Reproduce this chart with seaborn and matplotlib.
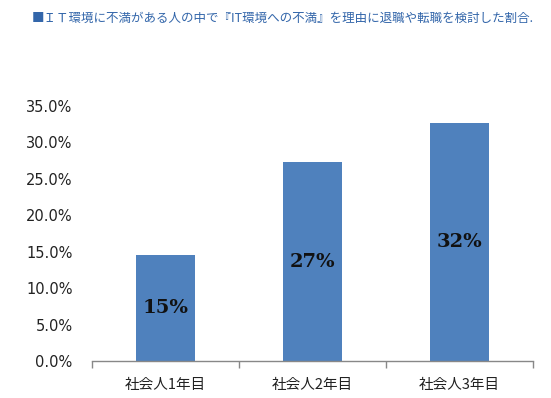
import numpy as np
import pandas as pd
import matplotlib
matplotlib.use("Agg")
import matplotlib.pyplot as plt
import seaborn as sns
from matplotlib.ticker import PercentFormatter

# data
categories = ["社会人1年目", "社会人2年目", "社会人3年目"]
rates = [0.145, 0.273, 0.326]
bar_labels = ["15%", "27%", "32%"]
title = "■ＩＴ環境に不満がある人の中で『IT環境への不満』を理由に退職や転職を検討した割合."

sns.set_style("white")
plt.rcParams['font.family'] = ['DejaVu Sans', 'Noto Sans CJK JP']

df = pd.DataFrame({"category": categories, "rate": rates})

fig = plt.figure(figsize=(5.51, 3.98), dpi=100)
ax = fig.add_axes([92 / 551, 37 / 398, 441 / 551, 255 / 398])

sns.barplot(data=df, x="category", y="rate", color="#4F81BD", width=0.4,
            saturation=1, linewidth=0, ax=ax)

ax.set_ylim(0, 0.35)
ax.set_xlim(-0.5, 2.5)
ax.set_yticks(np.arange(0, 0.351, 0.05))
ax.yaxis.set_major_formatter(PercentFormatter(1.0, decimals=1))
ax.tick_params(axis="y", length=0, pad=14, labelsize=10.5, labelcolor="#222222")
ax.tick_params(axis="x", which="major", length=0, pad=12)
ax.set_xticks([-0.5, 0.5, 1.5, 2.5], minor=True)
ax.tick_params(axis="x", which="minor", bottom=True, length=5, width=1,
               color="#888888", direction="out")
for lbl in ax.get_xticklabels():
    lbl.set_fontfamily(['Noto Sans CJK JP', 'DejaVu Sans'])
    lbl.set_fontsize(10.5)
    lbl.set_color("#222222")
ax.set_xlabel("")
ax.set_ylabel("")

for s in ["top", "right", "left"]:
    ax.spines[s].set_visible(False)
ax.spines["bottom"].set_color("#888888")
ax.spines["bottom"].set_linewidth(1)

for i, patch in enumerate(ax.patches):
    h = patch.get_height()
    ax.text(patch.get_x() + patch.get_width() / 2, h / 2, bar_labels[i],
            ha="center", va="center", fontsize=14, fontweight="bold",
            family="DejaVu Serif", color="#111111")

fig.text(32 / 551, 1 - 18 / 398, title, ha="left", va="center", fontsize=9,
         color="#3366AA", family=['Noto Sans CJK JP', 'DejaVu Sans'])

fig.savefig("out.png", dpi=100, facecolor="white")
